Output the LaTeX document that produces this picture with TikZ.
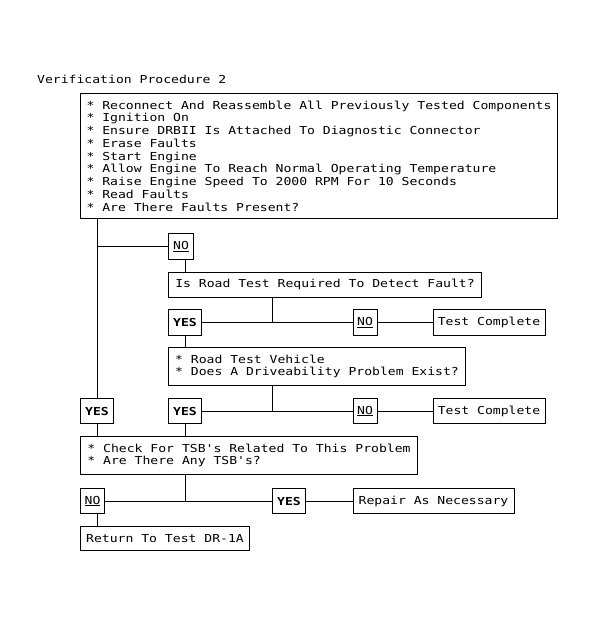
\documentclass[tikz,border=0pt]{standalone}
\usepackage{fontspec}
\newfontfamily\crtfont[FakeStretch=1.19]{DejaVu Sans Mono}

\begin{document}
\begin{tikzpicture}[x=1pt,y=-1pt,
      font=\crtfont\fontsize{11}{12.75}\selectfont,
      box/.style={draw,line width=1pt,anchor=north west,align=left,
                  inner xsep=4pt,inner ysep=2pt,minimum height=25pt},
      tag/.style={box,align=center,inner xsep=0pt,minimum width=#1},
      link/.style={line width=1pt},
    ]
    \useasboundingbox (0,0) rectangle (599,626);
    % Title
    \node[anchor=base west,inner sep=0pt] (title) at (37,84) {Verification Procedure 2};
    % Boxes
    \node[box,inner xsep=5pt,minimum width=477pt,minimum height=125pt] (main) at (80,93)
        {* Reconnect And Reassemble All Previously Tested Components\\
         * Ignition On\\
         * Ensure DRBII Is Attached To Diagnostic Connector\\
         * Erase Faults\\
         * Start Engine\\
         * Allow Engine To Reach Normal Operating Temperature\\
         * Raise Engine Speed To 2000 RPM For 10 Seconds\\
         * Read Faults\\
         * Are There Faults Present?};
    \node[tag=25pt,minimum height=26pt] (no1) at (168,233) {\underline{NO}};
    \node[box,minimum width=313pt] (road) at (168,271.5) {Is Road Test Required To Detect Fault?};
    \node[tag=33pt,minimum height=26pt] (yes1) at (168,309) {\bfseries YES};
    \node[tag=24pt,minimum height=26pt] (no2)  at (352.5,309) {\underline{NO}};
    \node[box,minimum width=112pt,minimum height=26pt] (tc1) at (432.5,309) {Test Complete};
    \node[box,minimum width=297pt,minimum height=38pt] (drive) at (168,347)
        {* Road Test Vehicle\\ * Does A Driveability Problem Exist?};
    \node[tag=33pt] (yesL) at (80,398)    {\bfseries YES};
    \node[tag=33pt] (yes2) at (168,398)   {\bfseries YES};
    \node[tag=24pt] (no3)  at (352.5,398) {\underline{NO}};
    \node[box,minimum width=112pt] (tc2) at (432.5,398) {Test Complete};
    \node[box,minimum width=337pt,minimum height=38pt] (tsb) at (80,436)
        {* Check For TSB's Related To This Problem\\ * Are There Any TSB's?};
    \node[tag=24pt] (no4)  at (80,488)    {\underline{NO}};
    \node[tag=33pt] (yes3) at (272,488)   {\bfseries YES};
    \node[box,minimum width=161pt] (repair) at (352.5,488) {Repair As Necessary};
    \node[box,minimum width=169pt,minimum height=24pt] (ret) at (80,526) {Return To Test DR-1A};
    % Junctions
    \coordinate (j1) at (272,322);
    \coordinate (j2) at (272,410.5);
    % Connectors
    \draw[link] (main.south -| yesL.north) -- (yesL.north);
    \draw[link] (no1.west) -- (no1.west -| yesL.north);
    \draw[link] (no1.south -| yes1.south) -- (road.north -| yes1.south);
    \draw[link] (road.south -| j1) -- (j1);
    \draw[link] (yes1.east) -- (no2.west);
    \draw[link] (no2.east) -- (tc1.west);
    \draw[link] (yes1.south) -- (drive.north -| yes1.south);
    \draw[link] (drive.south -| j2) -- (j2);
    \draw[link] (yes2.east) -- (no3.west);
    \draw[link] (no3.east) -- (tc2.west);
    \draw[link] (yesL.south) -- (tsb.north -| yesL.south);
    \draw[link] (yes2.south) -- (tsb.north -| yes2.south);
    \draw[link] (tsb.south -| yes2.south) -- (no4.east -| yes2.south);
    \draw[link] (no4.east) -- (yes3.west);
    \draw[link] (yes3.east) -- (repair.west);
    \draw[link] (no4.south -| yesL.south) -- (ret.north -| yesL.south);
  \end{tikzpicture}
\end{document}
